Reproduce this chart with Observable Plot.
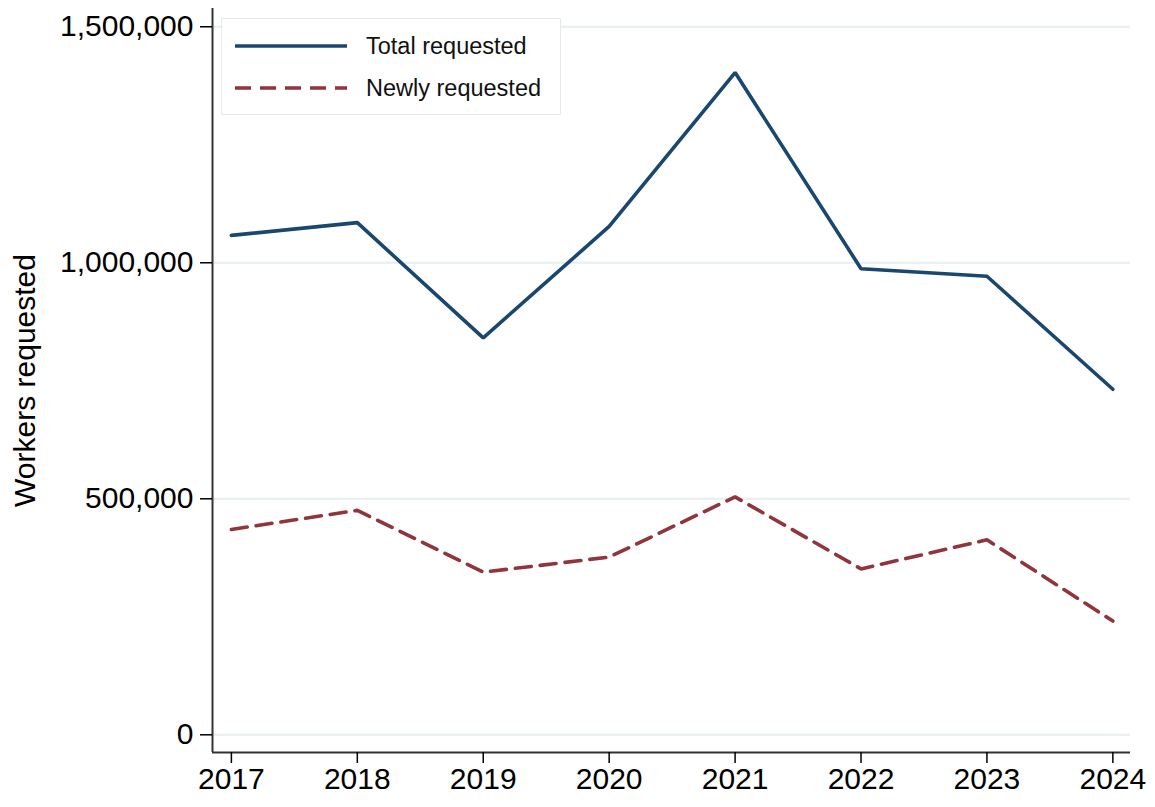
<!DOCTYPE html>
<html>
<head>
<meta charset="utf-8">
<script src="https://cdn.jsdelivr.net/npm/d3@7"></script>
<script src="https://cdn.jsdelivr.net/npm/@observablehq/plot@0.6"></script>
<style>
  html, body { margin: 0; padding: 0; background: #fff; }
  #wrap { position: relative; width: 1155px; height: 807px; font-family: "Liberation Sans", Arial, sans-serif; }
  #legend { position: absolute; left: 221px; top: 18px; width: 338px; height: 95px; border: 1.5px solid #e3ebee; background: #fff; }
  .item { position: absolute; left: 0; height: 30px; display: flex; align-items: center; }
  .item svg { margin-left: 13px; margin-right: 19px; }
  .item span { font-size: 23.5px; color: #111; }
</style>
</head>
<body>
<div id="wrap"></div>
<script>
const years = [2017, 2018, 2019, 2020, 2021, 2022, 2023, 2024];
const totalRequested = [1058000, 1085000, 841000, 1077000, 1403000, 987500, 971500, 732000];
const newlyRequested = [435000, 475500, 344500, 376500, 504000, 351500, 413000, 241000];
const seriesNames = ["Total requested", "Newly requested"];
const yTicks = [0, 500000, 1000000, 1500000];

const colors = {"Total requested": "#1a476f", "Newly requested": "#90353b"};
const xDomain = [2016.85, 2024.14];
const yDomain = [-37500, 1538700];

const totalData = years.map((y, i) => ({year: y, value: totalRequested[i]}));
const newData = years.map((y, i) => ({year: y, value: newlyRequested[i]}));

const chart = Plot.plot({
  width: 1155,
  height: 807,
  marginLeft: 212,
  marginRight: 25,
  marginTop: 8,
  marginBottom: 55,
  style: {fontFamily: "'Liberation Sans', Arial, sans-serif", fontSize: "30px", color: "#000", background: "#fff"},
  x: {domain: xDomain, axis: null},
  y: {domain: yDomain, axis: null},
  marks: [
    Plot.gridY(yTicks, {stroke: "#e6eef0", strokeOpacity: 1, strokeWidth: 2}),
    Plot.ruleX([xDomain[0]], {stroke: "#333", strokeWidth: 2}),
    Plot.ruleY([yDomain[0]], {stroke: "#333", strokeWidth: 2}),
    Plot.axisY(yTicks, {anchor: "left", tickSize: 12, tickPadding: 7, tickFormat: d3.format(","), fontSize: 30, stroke: "#000", strokeWidth: 1.5, label: null}),
    Plot.axisX(years, {anchor: "bottom", tickSize: 11, tickPadding: 4, tickFormat: d => String(d), fontSize: 30, stroke: "#000", strokeWidth: 1.5, label: null}),
    Plot.text(["Workers requested"], {frameAnchor: "left", rotate: -90, dx: -187, fontSize: 30, fill: "#000", textAnchor: "middle", lineAnchor: "middle"}),
    Plot.line(totalData, {x: "year", y: "value", stroke: colors["Total requested"], strokeWidth: 3.6, strokeLinejoin: "miter"}),
    Plot.line(newData, {x: "year", y: "value", stroke: colors["Newly requested"], strokeWidth: 3.6, strokeDasharray: "16,9", strokeLinejoin: "miter"})
  ]
});

const wrap = document.getElementById("wrap");
wrap.appendChild(chart);

const legend = document.createElement("div");
legend.id = "legend";
seriesNames.forEach((name, i) => {
  const item = document.createElement("div");
  item.className = "item";
  item.style.top = (i === 0 ? 12 : 54) + "px";
  const dash = name === "Newly requested" ? 'stroke-dasharray="16,9"' : "";
  item.innerHTML = `<svg width="112" height="10"><line x1="0" x2="112" y1="5" y2="5" stroke="${colors[name]}" stroke-width="3.6" ${dash}/></svg><span>${name}</span>`;
  legend.appendChild(item);
});
wrap.appendChild(legend);
</script>
</body>
</html>
